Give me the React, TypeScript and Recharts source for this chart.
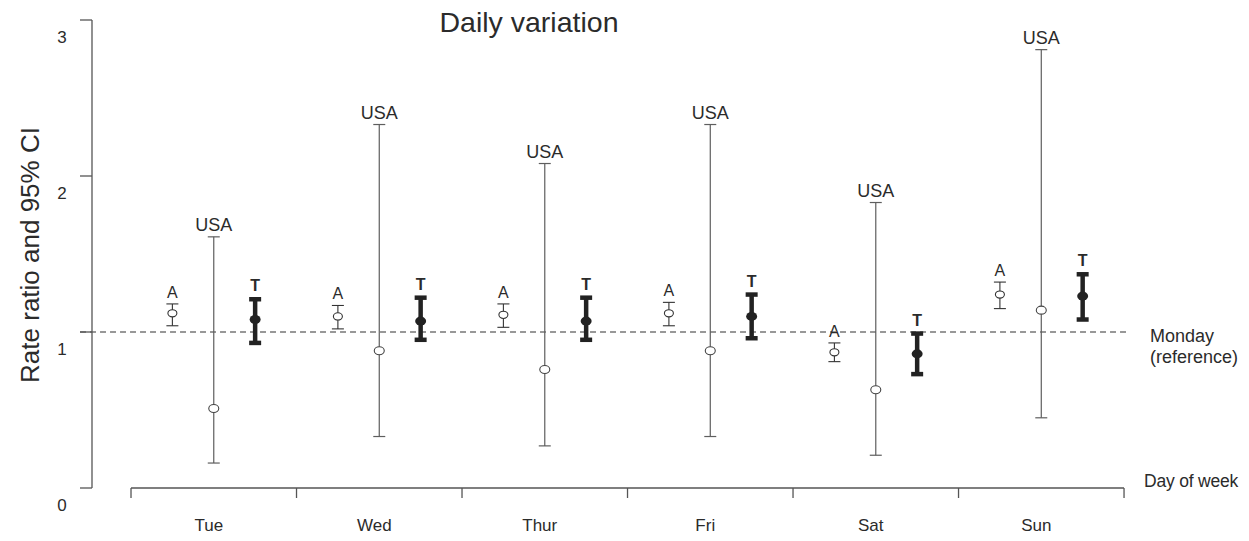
import React from "react";
import {
  ComposedChart,
  Scatter,
  ErrorBar,
  XAxis,
  YAxis,
  ReferenceLine,
} from "recharts";

// days compared against Monday (reference)
const days = ["Tue", "Wed", "Thur", "Fri", "Sat", "Sun"];

// A
const aRate = [1.12, 1.1, 1.11, 1.12, 0.87, 1.24];
const aLow = [1.04, 1.02, 1.03, 1.04, 0.81, 1.15];
const aHigh = [1.18, 1.17, 1.18, 1.19, 0.93, 1.32];

// USA
const usaRate = [0.51, 0.88, 0.76, 0.88, 0.63, 1.14];
const usaLow = [0.16, 0.33, 0.27, 0.33, 0.21, 0.45];
const usaHigh = [1.61, 2.33, 2.08, 2.33, 1.83, 2.81];

// T
const tRate = [1.08, 1.07, 1.07, 1.1, 0.86, 1.23];
const tLow = [0.93, 0.95, 0.95, 0.96, 0.73, 1.08];
const tHigh = [1.21, 1.22, 1.22, 1.24, 0.99, 1.37];

const yTicks = [0, 1, 2, 3];
const xTicks = [0, 0.5, 1, 1.5, 2, 2.5, 3, 3.5, 4, 4.5, 5, 5.5, 6];

const TEXT = "#2b2b2b";
const AXIS = "#555";
const FONT = "'Liberation Sans', Arial, sans-serif";

const build = (rate: number[], low: number[], high: number[], offset: number) =>
  days.map((d, i) => ({
    day: d,
    x: i + 0.5 + offset,
    y: rate[i],
    err: [rate[i] - low[i], high[i] - rate[i]],
  }));

const tops = (high: number[], offset: number) =>
  days.map((d, i) => ({ day: d, x: i + 0.5 + offset, y: high[i] }));

const aData = build(aRate, aLow, aHigh, -0.25);
const usaData = build(usaRate, usaLow, usaHigh, 0);
const tData = build(tRate, tLow, tHigh, 0.25);

const OpenDot = (rx: number, ry: number, stroke: string) => (props: any) =>
  (
    <ellipse
      cx={props.cx}
      cy={props.cy}
      rx={rx}
      ry={ry}
      fill="#fff"
      stroke={stroke}
      strokeWidth={1.1}
    />
  );

const FilledDot = (props: any) => (
  <ellipse cx={props.cx} cy={props.cy} rx={5.5} ry={4.5} fill="#222" />
);

const TagLabel = (text: string, dy: number, size: number, bold = false) => (props: any) =>
  (
    <text
      x={props.cx}
      y={props.cy - dy}
      textAnchor="middle"
      fontSize={size}
      fontWeight={bold ? 700 : 400}
      fill={TEXT}
      fontFamily={FONT}
    >
      {text}
    </text>
  );

const XTick = (props: any) => {
  const { x, y, payload } = props;
  const v = payload.value;
  if (Number.isInteger(v)) {
    return <line x1={x} y1={y} x2={x} y2={y + 10} stroke={AXIS} strokeWidth={1.3} />;
  }
  return (
    <text x={x - 5} y={y + 43} textAnchor="middle" fontSize={17} fill={TEXT} fontFamily={FONT}>
      {days[Math.floor(v)]}
    </text>
  );
};

const YTick = (props: any) => {
  const { x, y, payload } = props;
  return (
    <text x={x - 18} y={y + 23} textAnchor="middle" fontSize={17} fill={TEXT} fontFamily={FONT}>
      {payload.value}
    </text>
  );
};

export default function App() {
  return (
    <div style={{ position: "relative", width: 1241, height: 533, fontFamily: FONT, color: TEXT }}>
      <ComposedChart
        width={1241}
        height={533}
        margin={{ top: 12, right: 120, bottom: 3, left: 24 }}
      >
        <XAxis
          type="number"
          dataKey="x"
          domain={[-0.2357, 6.03]}
          ticks={xTicks}
          interval={0}
          axisLine={false}
          tickLine={false}
          tickSize={0}
          tickMargin={0}
          height={50}
          tick={<XTick />}
        />
        <YAxis
          type="number"
          dataKey="y"
          domain={[0, 3]}
          ticks={yTicks}
          width={60}
          tickSize={12}
          tickMargin={0}
          axisLine={{ stroke: AXIS, strokeWidth: 1.3 }}
          tickLine={{ stroke: AXIS, strokeWidth: 1.3 }}
          tick={<YTick />}
        />
        <ReferenceLine
          segment={[{ x: 0, y: 0 }, { x: 6, y: 0 }]}
          stroke={AXIS}
          strokeWidth={1.3}
          ifOverflow="visible"
        />
        <ReferenceLine
          segment={[{ x: -0.308, y: 1 }, { x: 6.03, y: 1 }]}
          stroke="#333"
          strokeWidth={1.1}
          strokeDasharray="6 4"
          ifOverflow="visible"
        />

        <Scatter data={usaData} dataKey="y" shape={OpenDot(5, 4, "#444")} isAnimationActive={false}>
          <ErrorBar dataKey="err" direction="y" width={6} stroke="#5e5e5e" strokeWidth={1.2} isAnimationActive={false} />
        </Scatter>
        <Scatter data={aData} dataKey="y" shape={OpenDot(4.5, 3.6, "#333")} isAnimationActive={false}>
          <ErrorBar dataKey="err" direction="y" width={6} stroke="#333" strokeWidth={1.1} isAnimationActive={false} />
        </Scatter>
        <Scatter data={tData} dataKey="y" shape={FilledDot} isAnimationActive={false}>
          <ErrorBar dataKey="err" direction="y" width={6} stroke="#222" strokeWidth={4.5} isAnimationActive={false} />
        </Scatter>

        <Scatter data={tops(usaHigh, 0)} dataKey="y" shape={TagLabel("USA", 6, 18)} isAnimationActive={false} />
        <Scatter data={tops(aHigh, -0.25)} dataKey="y" shape={TagLabel("A", 6, 16)} isAnimationActive={false} />
        <Scatter data={tops(tHigh, 0.25)} dataKey="y" shape={TagLabel("T", 8, 16, true)} isAnimationActive={false} />
      </ComposedChart>

      <div
        style={{
          position: "absolute",
          left: 521,
          top: 14,
          transform: "translate(-50%, -50%)",
          fontSize: 28.5,
          whiteSpace: "nowrap",
        }}
      >
        Daily variation
      </div>
      <div
        style={{
          position: "absolute",
          left: 22,
          top: 247,
          transform: "translate(-50%, -50%) rotate(-90deg)",
          fontSize: 26,
          whiteSpace: "nowrap",
        }}
      >
        Rate ratio and 95% CI
      </div>
      <div style={{ position: "absolute", left: 1142, top: 318, fontSize: 18, lineHeight: "21px" }}>
        Monday
        <br />
        (reference)
      </div>
      <div
        style={{
          position: "absolute",
          left: 1136,
          top: 463,
          fontSize: 17.5,
          lineHeight: "21px",
          whiteSpace: "nowrap",
          letterSpacing: -0.2,
        }}
      >
        Day of week
      </div>
    </div>
  );
}
